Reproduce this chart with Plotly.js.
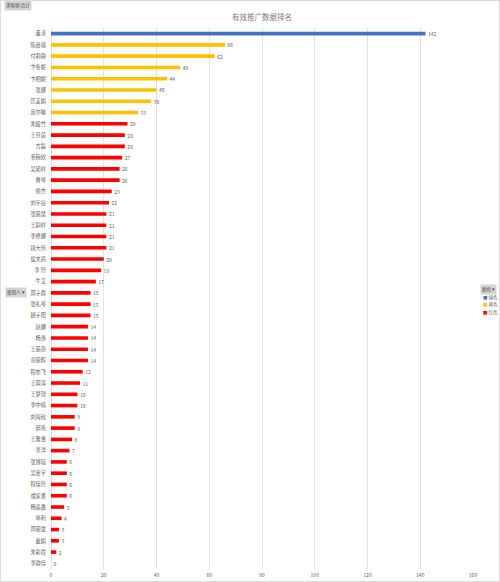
<!DOCTYPE html>
<html>
<head>
<meta charset="utf-8">
<script src="https://cdn.plot.ly/plotly-3.0.1.min.js"></script>
<style>
html,body{margin:0;padding:0;background:#fff;}
#wrap{position:relative;width:500px;height:582px;}
#frame{position:absolute;left:0;top:0;width:498px;height:580px;border:1px solid #dcdcdc;pointer-events:none;}
</style>
</head>
<body>
<div id="wrap"><div id="chart"></div><div id="frame"></div></div>
<script>
// Categories and values (top to bottom)
const names = ["董涛","陈彦様","付莉静","卞冬妮","卞相妮","张娜","匡美娟","庞尔敏",
"朱殿竹","王芬茵","方磊","毛碗欣","吴韬祥","曹琴","徐杰","刘宇征","张丽慧","王嗣祥",
"李修娜","段大伟","侯文茜","李 玲","牛艾","周子群","张礼琴","顾子阳","赵娜","杨洛",
"王丽燕","佘丽辉","程亦飞","王雨萍","王梦琦","李中倩","刘海欣","邱秀","王雅惠","李洋",
"张博瑞","吴嘉宇","程佳玲","成家勇","杨晶鑫","单利","周丽雯","戴娟","朱彩霞","李韵佳"];
const values = [142,66,62,49,44,40,38,33,
29,28,28,27,26,26,23,22,21,21,
21,21,20,19,17,15,15,15,14,14,
14,14,12,11,10,10,9,9,8,7,
6,6,6,6,5,4,3,3,2,0];
const groups = ["绿色","黄色","黄色","黄色","黄色","黄色","黄色","黄色"];
for (let i = 8; i < names.length; i++) groups.push("红色");
const groupNames = ["绿色","黄色","红色"];
const groupColors = {"绿色":"#4472c4","黄色":"#ffc000","红色":"#ff0000"};
const xTicks = [0,20,40,60,80,100,120,140,160];

const FONT = '"Noto Sans CJK SC","Noto Sans",sans-serif';

const traces = groupNames.map(g => {
  const ys = [], xs = [];
  names.forEach((n, i) => { if (groups[i] === g) { ys.push(n); xs.push(values[i]); } });
  return {
    type: 'bar', orientation: 'h', name: g,
    y: ys, x: xs, width: 0.32,
    marker: {color: groupColors[g]},
    text: xs.map(v => '\u2002' + v), textposition: 'outside', constraintext: 'none',
    cliponaxis: false,
    textfont: {size: 5, color: '#595959', family: FONT},
    hoverinfo: 'x+y'
  };
});

const annotations = [
  {xref:'paper', yref:'paper', x:0.5, y:1, yanchor:'bottom', yshift:4, text:'有效推广数据排名',
   showarrow:false, font:{size:7.5, color:'#7a7a7a', family:FONT}},
];
const W=500,H=582,ml=51,mr=27,mt=28,mb=13;
const pw=W-ml-mr, ph=H-mt-mb;
function px(x){return (x-ml)/pw;}
function py(y){return 1-(y-mt)/ph;}
annotations.push({xref:'paper',yref:'paper',x:px(4),y:py(6),xanchor:'left',yanchor:'middle',
  text:'求和项:合计',showarrow:false,bgcolor:'#d4d4d4',borderpad:1,font:{size:4.5,color:'#404040',family:FONT}});
annotations.push({xref:'paper',yref:'paper',x:px(5),y:py(292),xanchor:'left',yanchor:'middle',
  text:'使用人 ▾',showarrow:false,bgcolor:'#d4d4d4',borderpad:1,font:{size:4.5,color:'#404040',family:FONT}});
annotations.push({xref:'paper',yref:'paper',x:px(480),y:py(289),xanchor:'left',yanchor:'middle',
  text:'颜色 ▾',showarrow:false,bgcolor:'#d4d4d4',borderpad:1,font:{size:4.5,color:'#404040',family:FONT}});
groupNames.forEach((g, k) => {
  annotations.push({xref:'paper',yref:'paper',x:px(481),y:py(297+k*7.5),xanchor:'left',yanchor:'middle',
    text:'<span style="color:'+groupColors[g]+'">■</span> '+g,showarrow:false,
    font:{size:4.5,color:'#595959',family:FONT}});
});

const layout = {
  width: W, height: H,
  margin: {l: ml, r: mr, t: mt, b: mb, pad: 0},
  paper_bgcolor: '#fff', plot_bgcolor: '#fff',
  showlegend: false,
  barmode: 'overlay',
  font: {family: FONT, color: '#595959'},
  xaxis: {
    range: [0, 160], tickvals: xTicks, ticktext: xTicks.map(String),
    showgrid: true, gridcolor: '#e3e3e3', gridwidth: 1,
    zeroline: true, zerolinecolor: '#e3e3e3', zerolinewidth: 1,
    showline: false, ticks: '', tickfont: {size: 5, color: '#595959'},
    ticklabelstandoff: 2, fixedrange: true
  },
  yaxis: {
    type: 'category', categoryorder: 'array', categoryarray: names,
    autorange: 'reversed', showgrid: false, zeroline: false, showline: false,
    ticks: '', tickfont: {size: 5.2, color: '#595959'}, ticklabelstandoff: 4,
    fixedrange: true
  },
  annotations: annotations
};

Plotly.newPlot('chart', traces, layout, {displayModeBar: false, staticPlot: true});
</script>
</body>
</html>
